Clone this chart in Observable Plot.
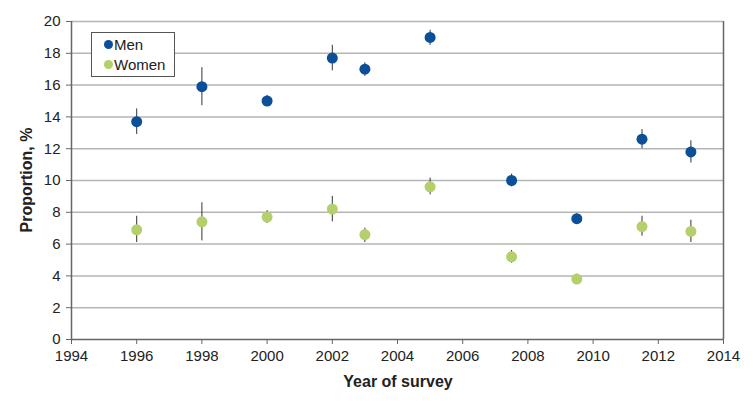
<!DOCTYPE html>
<html>
<head>
<meta charset="utf-8">
<script src="https://cdn.jsdelivr.net/npm/d3@7"></script>
<script src="https://cdn.jsdelivr.net/npm/@observablehq/plot@0.6"></script>
<style>
  html, body { margin: 0; padding: 0; background: #fff; }
  #wrap { position: relative; width: 753px; height: 405px; font-family: "Liberation Sans", Arial, Helvetica, sans-serif; }
  #legend { position: absolute; left: 91px; top: 32px; width: 84px; height: 45px; border: 1px solid #555; background: #fff; box-sizing: border-box; font-size: 15px; color: #222; }
  #legend .row { position: absolute; left: 12px; display: flex; align-items: center; }
  #legend .dot { width: 9px; height: 9px; border-radius: 50%; margin-right: 1px; }
</style>
</head>
<body>
<div id="wrap"></div>
<script>
const years   = [1996, 1998, 2000, 2002, 2003, 2005, 2007.5, 2009.5, 2011.5, 2013];
const men     = [13.7, 15.9, 15.0, 17.7, 17.0, 19.0, 10.0, 7.6, 12.6, 11.8];
const menLo   = [12.9, 14.7, 14.7, 16.9, 16.55, 18.5, 9.6, 7.25, 12.0, 11.1];
const menHi   = [14.5, 17.1, 15.35, 18.5, 17.4, 19.45, 10.4, 7.9, 13.2, 12.5];
const women   = [6.9, 7.4, 7.7, 8.2, 6.6, 9.6, 5.2, 3.8, 7.1, 6.8];
const womenLo = [6.1, 6.2, 7.3, 7.4, 6.1, 9.1, 4.8, 3.55, 6.5, 6.1];
const womenHi = [7.75, 8.6, 8.1, 9.0, 7.0, 10.15, 5.6, 4.1, 7.75, 7.5];
const seriesNames = ["Men", "Women"];
const seriesColors = ["#0a4f98", "#b4cf6c"];
const xTicks = d3.range(1994, 2015, 2);
const yTicks = d3.range(0, 21, 2);

const data = [];
years.forEach((y, i) => {
  data.push({year: y, sex: "Men", v: men[i], lo: menLo[i], hi: menHi[i]});
  data.push({year: y, sex: "Women", v: women[i], lo: womenLo[i], hi: womenHi[i]});
});

const chart = Plot.plot({
  width: 753,
  height: 405,
  marginLeft: 71,
  marginRight: 30,
  marginTop: 21,
  marginBottom: 66,
  style: {fontFamily: '"Liberation Sans", Arial, Helvetica, sans-serif', fontSize: "15px", color: "#222", background: "#fff"},
  x: {domain: [1994, 2014], ticks: xTicks, tickFormat: d => String(d), label: null},
  y: {domain: [0, 20], ticks: yTicks, label: null},
  color: {domain: seriesNames, range: seriesColors},
  marks: [
    Plot.ruleY(yTicks.filter(d => d > 0), {stroke: "#b5b5b5", strokeWidth: 1.5}),
    Plot.ruleX([2014], {stroke: "#666", strokeWidth: 1.5}),
    Plot.ruleX([1994], {stroke: "#666", strokeWidth: 1.5}),
    Plot.ruleY([0], {stroke: "#666", strokeWidth: 1.5}),
    Plot.axisX({ticks: xTicks, tickFormat: d => String(d), tickSize: 5, tickPadding: 6, stroke: "#666", fontSize: 15, label: null}),
    Plot.axisY({ticks: yTicks, tickSize: 5, tickPadding: 6, stroke: "#666", fontSize: 15, label: null}),
    Plot.ruleX(data, {x: "year", y1: "lo", y2: "hi", stroke: "#333", strokeWidth: 1}),
    Plot.dot(data, {x: "year", y: "v", fill: "sex", r: 5.5, stroke: null})
  ]
});

const wrap = document.getElementById("wrap");
wrap.appendChild(chart);

// axis titles
const svg = d3.select(chart);
svg.append("text")
  .attr("x", 398).attr("y", 387)
  .attr("text-anchor", "middle")
  .attr("font-weight", "bold").attr("font-size", 16).attr("fill", "#222")
  .text("Year of survey");
svg.append("text")
  .attr("transform", "translate(32,180) rotate(-90)")
  .attr("text-anchor", "middle")
  .attr("font-weight", "bold").attr("font-size", 16).attr("fill", "#222")
  .text("Proportion, %");

// legend
const legend = document.createElement("div");
legend.id = "legend";
seriesNames.forEach((name, i) => {
  const row = document.createElement("div");
  row.className = "row";
  row.style.top = (i === 0 ? 3 : 23) + "px";
  const dot = document.createElement("span");
  dot.className = "dot";
  dot.style.background = seriesColors[i];
  const t = document.createElement("span");
  t.textContent = name;
  row.appendChild(dot); row.appendChild(t);
  legend.appendChild(row);
});
wrap.appendChild(legend);
</script>
</body>
</html>
